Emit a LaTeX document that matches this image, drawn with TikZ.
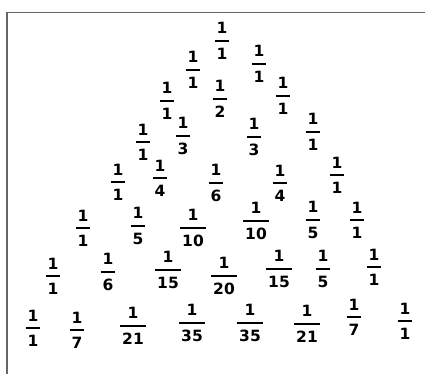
\documentclass[tikz,border=0pt]{standalone}
\usepackage{amsmath}
\usepackage{fontspec}
\newfontfamily\hand{DejaVu Sans}
\newcommand\fr[2]{$\genfrac{}{}{2pt}{0}{\mbox{\hand\bfseries #1}}{\mbox{\hand\bfseries\hspace{2pt}#2\hspace{2pt}}}$}
\tikzset{fracnode/.style={inner sep=0pt, font=\fontsize{15.5}{17}\selectfont}}
\begin{document}
\begin{tikzpicture}[x=1pt,y=-1pt]
\useasboundingbox (0,0) rectangle (425,374);
\draw[color=black!60, line width=1.5pt] (7,375) -- (7,12.5) -- (425,12.5);
% row 1
\node[fracnode] (a1) at (222,41) {\fr{1}{1}};
% row 2
\node[fracnode] (b1) at (193,70) {\fr{1}{1}};
\node[fracnode] (b2) at (259,64) {\fr{1}{1}};
% row 3
\node[fracnode] (c1) at (167,101) {\fr{1}{1}};
\node[fracnode] (c2) at (220,99) {\fr{1}{2}};
\node[fracnode] (c3) at (283,96) {\fr{1}{1}};
% row 4
\node[fracnode] (d1) at (143,142) {\fr{1}{1}};
\node[fracnode] (d2) at (183,136) {\fr{1}{3}};
\node[fracnode] (d3) at (254,137) {\fr{1}{3}};
\node[fracnode] (d4) at (313,132) {\fr{1}{1}};
% row 5
\node[fracnode] (e1) at (118,182) {\fr{1}{1}};
\node[fracnode] (e2) at (160,178) {\fr{1}{4}};
\node[fracnode] (e3) at (216,183) {\fr{1}{6}};
\node[fracnode] (e4) at (280,183) {\fr{1}{4}};
\node[fracnode] (e5) at (337,175) {\fr{1}{1}};
% row 6
\node[fracnode] (f1) at (83,228) {\fr{1}{1}};
\node[fracnode] (f2) at (138,226) {\fr{1}{5}};
\node[fracnode] (f3) at (193,228) {\fr{1}{10}};
\node[fracnode] (f4) at (256,221) {\fr{1}{10}};
\node[fracnode] (f5) at (313,220) {\fr{1}{5}};
\node[fracnode] (f6) at (357,220) {\fr{1}{1}};
% row 7
\node[fracnode] (g1) at (53,276) {\fr{1}{1}};
\node[fracnode] (g2) at (108,272) {\fr{1}{6}};
\node[fracnode] (g3) at (168,270) {\fr{1}{15}};
\node[fracnode] (g4) at (224,276) {\fr{1}{20}};
\node[fracnode] (g5) at (279,269) {\fr{1}{15}};
\node[fracnode] (g6) at (323,269) {\fr{1}{5}};
\node[fracnode] (g7) at (374,267) {\fr{1}{1}};
% row 8
\node[fracnode] (h1) at (33,328) {\fr{1}{1}};
\node[fracnode] (h2) at (77,330) {\fr{1}{7}};
\node[fracnode] (h3) at (133,326) {\fr{1}{21}};
\node[fracnode] (h4) at (192,323) {\fr{1}{35}};
\node[fracnode] (h5) at (250,323) {\fr{1}{35}};
\node[fracnode] (h6) at (307,324) {\fr{1}{21}};
\node[fracnode] (h7) at (354,317) {\fr{1}{7}};
\node[fracnode] (h8) at (405,321) {\fr{1}{1}};
\end{tikzpicture}
\end{document}
